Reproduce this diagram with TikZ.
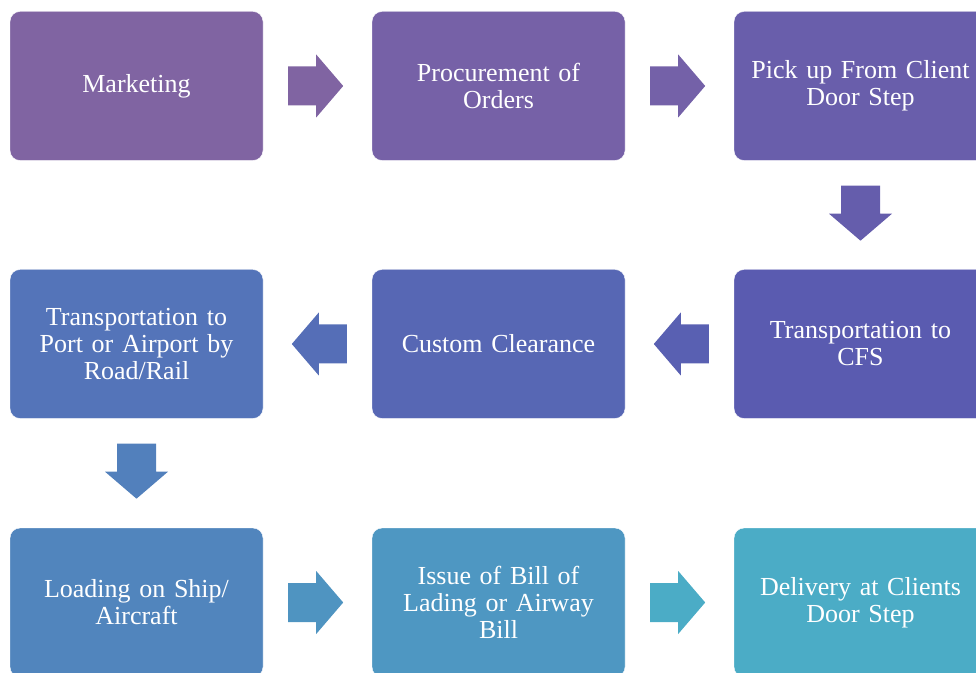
\documentclass[tikz,border=0pt]{standalone}
\usepackage{fontspec}
\setmainfont{Liberation Serif}
\definecolor{c0}{HTML}{8064A2}
\definecolor{c1}{HTML}{7661A7}
\definecolor{c2}{HTML}{695EAB}
\definecolor{c3}{HTML}{5A5BB0}
\definecolor{c4}{HTML}{5767B4}
\definecolor{c5}{HTML}{5474B9}
\definecolor{c6}{HTML}{5185BD}
\definecolor{c7}{HTML}{4E97C2}
\definecolor{c8}{HTML}{4BACC6}
\tikzset{
  stepbox/.style={rectangle, rounded corners=10pt, minimum width=253pt, minimum height=149pt,
    text width=240pt, align=center, text=white, draw=white, line width=0.4pt,
    font=\fontsize{26}{27}\selectfont, inner sep=0pt},
}
\newcommand{\blkarrow}[3]{%
  \fill[#3, shift={(#1)}, rotate=#2] (25,-19.5) -- (53,-19.5) -- (53,-31.5) -- (80,0) -- (53,31.5) -- (53,19.5) -- (25,19.5) -- cycle;}
\begin{document}
\begin{tikzpicture}[x=1pt,y=1pt]
\useasboundingbox (0,0) rectangle (976,672);
\clip (0,0) rectangle (976,672);
\node[stepbox, fill=c0] (b1) at (136.5,586) {Marketing};
\node[stepbox, fill=c1] (b2) at (498.5,586) {Procurement of\\Orders};
\node[stepbox, fill=c2] (b3) at (860.5,586) {Pick up From Client\\Door Step};
\node[stepbox, fill=c3] (b4) at (860.5,328) {Transportation to\\CFS};
\node[stepbox, fill=c4] (b5) at (498.5,328) {Custom Clearance};
\node[stepbox, fill=c5] (b6) at (136.5,328) {Transportation to\\Port or Airport by\\Road/Rail};
\node[stepbox, fill=c6] (b7) at (136.5,69.5) {Loading on Ship/\\Aircraft};
\node[stepbox, fill=c7] (b8) at (498.5,69.5) {Issue of Bill of\\Lading or Airway\\Bill};
\node[stepbox, fill=c8] (b9) at (860.5,69.5) {Delivery at Clients\\Door Step};
\blkarrow{b1.east}{0}{c0}
\blkarrow{b2.east}{0}{c1!86!c2}
\blkarrow{b3.south}{-90}{c2!71!c3}
\blkarrow{b4.west}{180}{c3!57!c4}
\blkarrow{b5.west}{180}{c4!43!c5}
\blkarrow{b6.south}{-90}{c5!29!c6}
\blkarrow{b7.east}{0}{c6!14!c7}
\blkarrow{b8.east}{0}{c8}
\end{tikzpicture}
\end{document}
